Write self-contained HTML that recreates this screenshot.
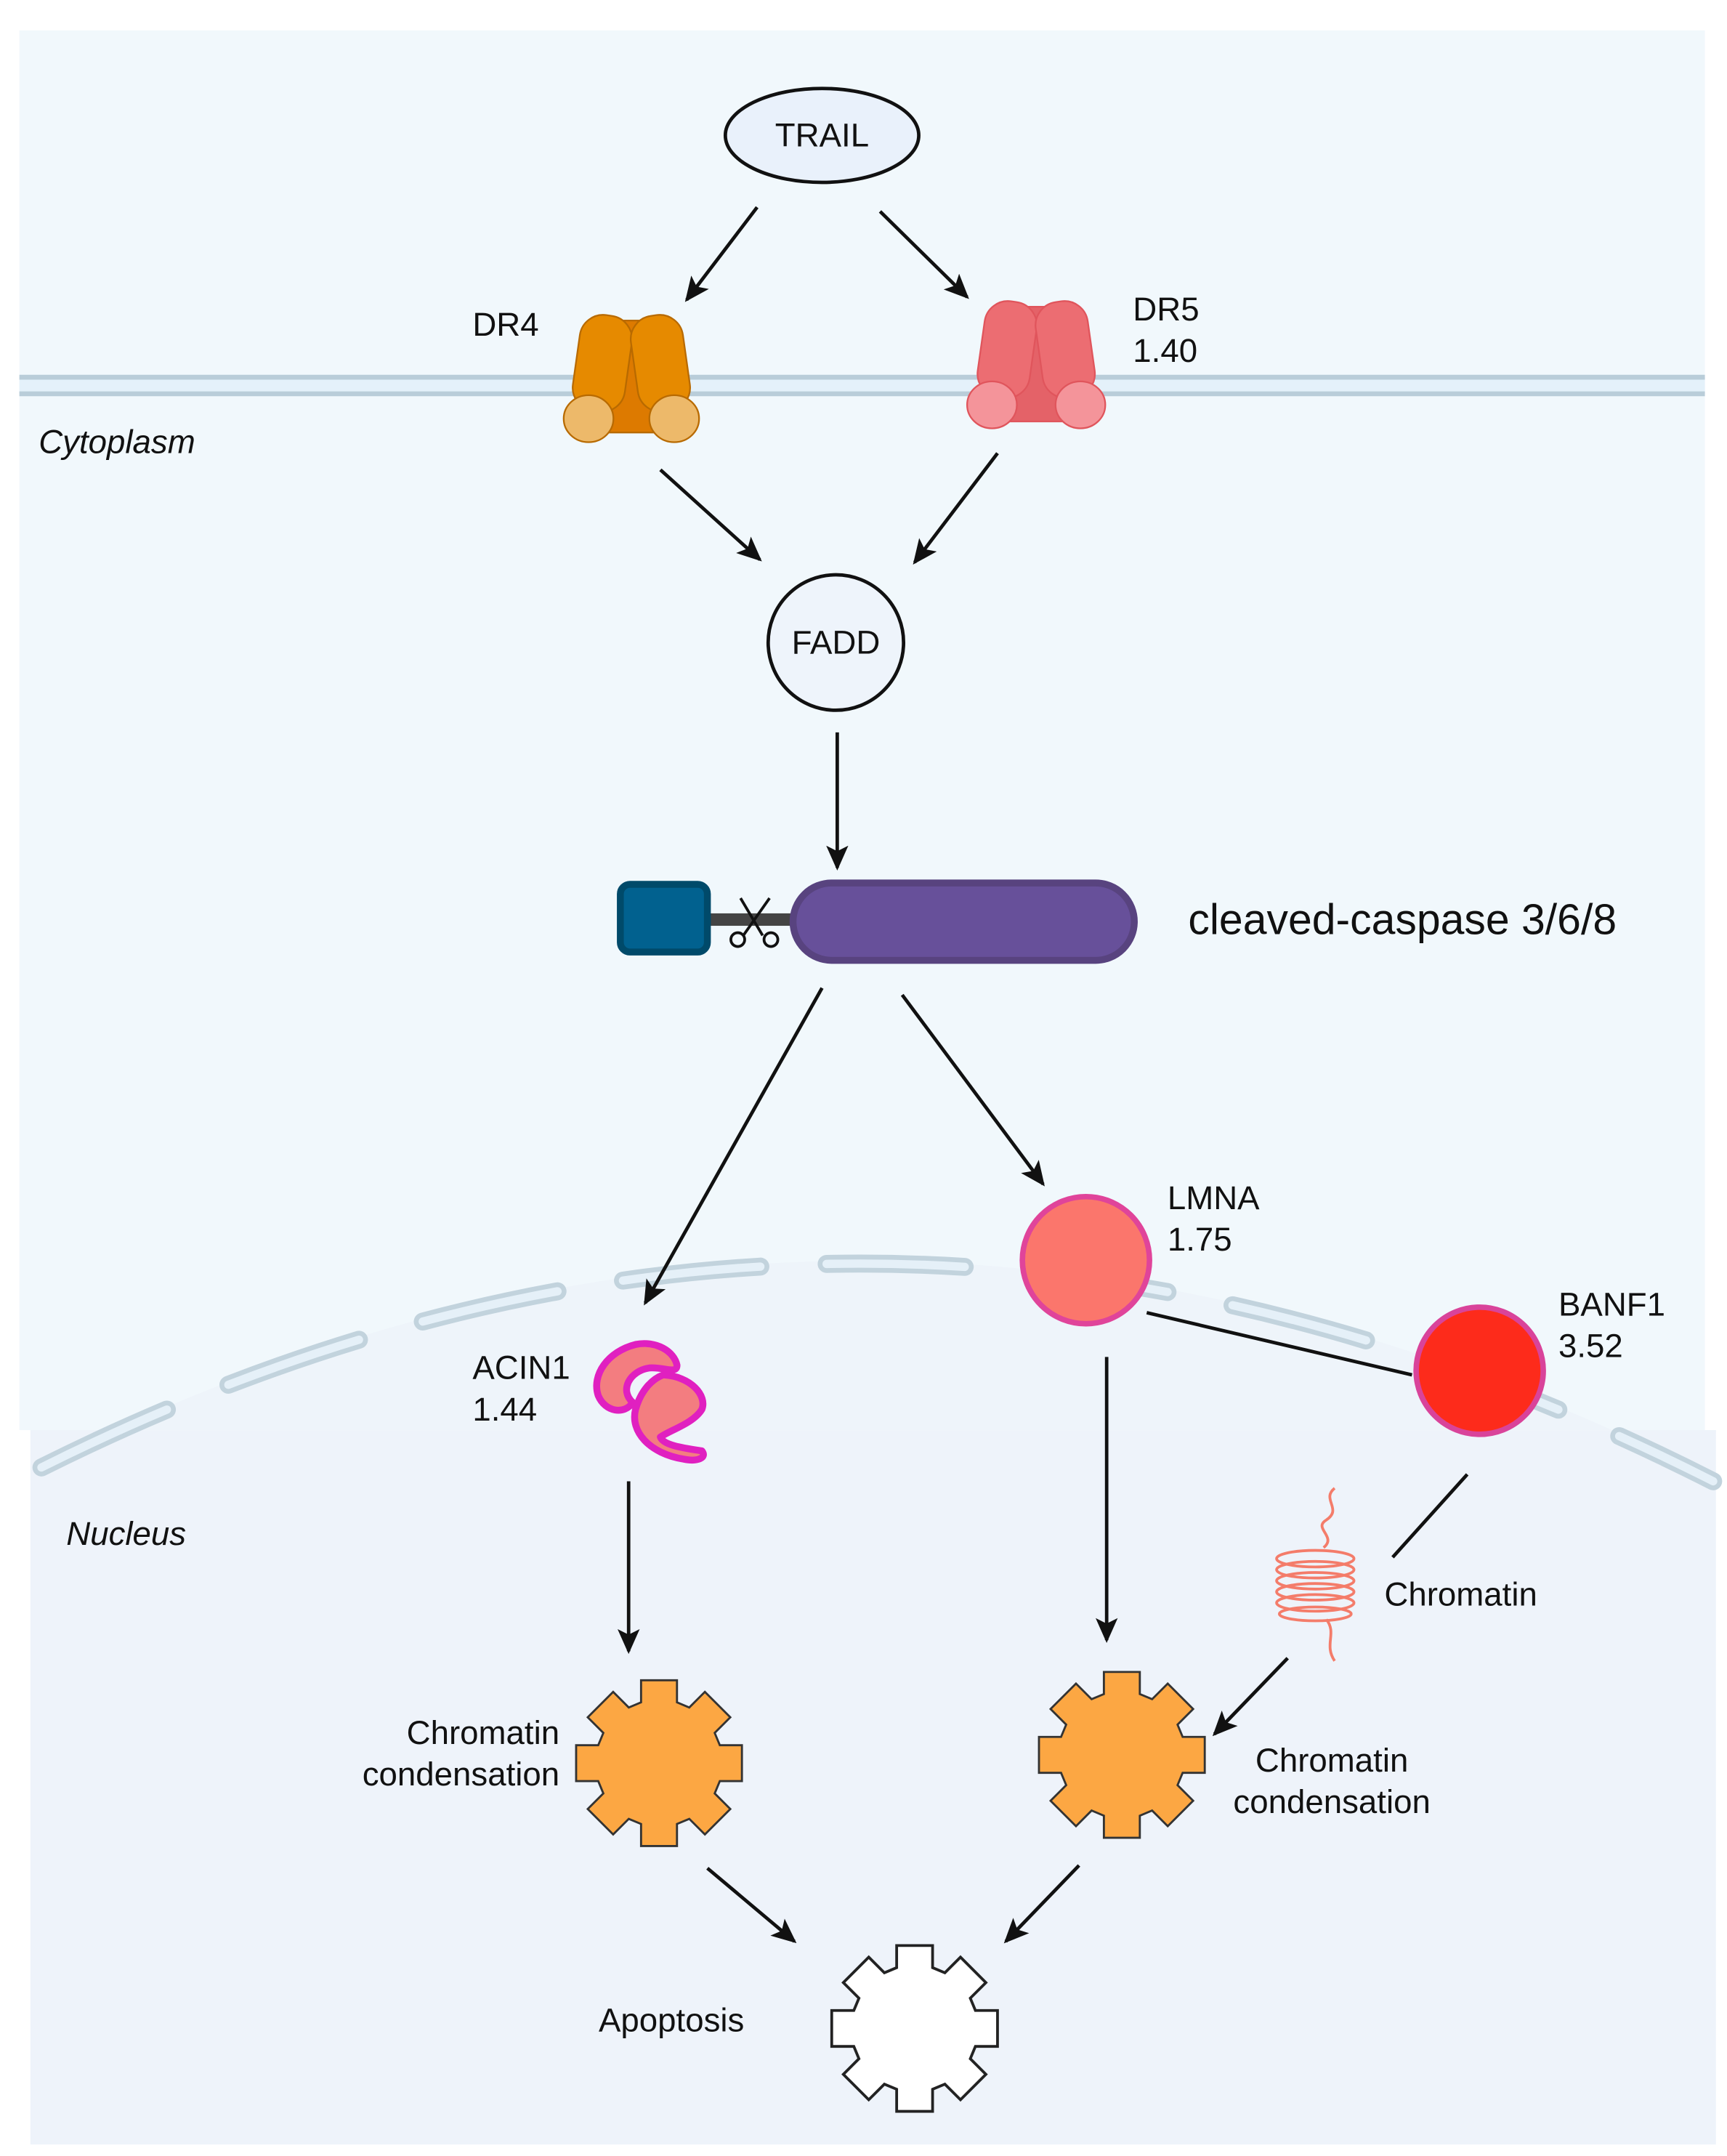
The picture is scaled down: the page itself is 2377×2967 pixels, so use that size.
<!DOCTYPE html>
<html><head><meta charset="utf-8"><style>
html,body{margin:0;padding:0;background:#fff}
svg{display:block}
text{font-family:"Liberation Sans",sans-serif;fill:#111}
</style></head><body>
<svg width="2377" height="2967" viewBox="0 0 1250 1560.3" preserveAspectRatio="none" xmlns="http://www.w3.org/2000/svg">
<defs>
<marker id="ah" markerWidth="10" markerHeight="10" refX="8" refY="5" orient="auto" markerUnits="userSpaceOnUse" viewBox="0 0 10 10">
<path d="M0,0 L10,5 L0,10 z" fill="#111"/></marker>
<marker id="a" markerWidth="18" markerHeight="16" refX="16" refY="8" orient="auto" markerUnits="userSpaceOnUse"><path d="M0,0 L18,8 L0,16 L4,8 z" fill="#111"/></marker>
<polygon id="gear" points="44,-13 60,-13 60,13 44,13 40.3,21.9 51.6,33.2 33.2,51.6 21.9,40.3 13,44 13,60 -13,60 -13,44 -21.9,40.3 -33.2,51.6 -51.6,33.2 -40.3,21.9 -44,13 -60,13 -60,-13 -44,-13 -40.3,-21.9 -51.6,-33.2 -33.2,-51.6 -21.9,-40.3 -13,-44 -13,-60 13,-60 13,-44 21.9,-40.3 33.2,-51.6 51.6,-33.2 40.3,-21.9"/>
</defs>
<rect width="1250" height="1561" fill="#fff"/>
<rect x="14" y="22" width="1220" height="1013" fill="#f1f8fc"/>
<rect x="22" y="1035" width="1220" height="517" fill="#eef3fa"/>
<path d="M30 1060 Q630 760 1240 1070 L1242 1035 L22 1035 Z" fill="#edf3f9" opacity="0.9"/>
<path d="M30 1062 Q630 762 1240 1072" fill="none" stroke="#c2d3dd" stroke-width="13" stroke-dasharray="100 48" stroke-linecap="round"/>
<path d="M30 1062 Q630 762 1240 1072" fill="none" stroke="#e5f0f8" stroke-width="6" stroke-dasharray="100 48" stroke-linecap="round"/>
<!-- membrane -->
<rect x="14" y="273" width="1220" height="12" fill="#e4f1fa"/>
<line x1="14" y1="273" x2="1234" y2="273" stroke="#b9cdd9" stroke-width="3.5"/>
<line x1="14" y1="285" x2="1234" y2="285" stroke="#b9cdd9" stroke-width="3.5"/>
<text x="28" y="328" font-size="24" font-style="italic">Cytoplasm</text>
<text x="48" y="1118" font-size="24" font-style="italic">Nucleus</text>
<!-- TRAIL -->
<ellipse cx="595" cy="98" rx="70" ry="34" fill="#e9f1fb" stroke="#111" stroke-width="2.5"/>
<text x="595" y="106" font-size="24" text-anchor="middle">TRAIL</text>
<g stroke="#111" stroke-width="2.5" fill="none" marker-end="url(#a)">
<line x1="548" y1="150" x2="497" y2="217"/>
<line x1="637" y1="153" x2="700" y2="215"/>
<line x1="478" y1="340" x2="550" y2="405"/>
<line x1="722" y1="328" x2="662" y2="407"/>
<line x1="606" y1="530" x2="606" y2="628"/>
<line x1="595" y1="715" x2="467" y2="943"/>
<line x1="653" y1="720" x2="755" y2="857"/>
<line x1="455" y1="1072" x2="455" y2="1195"/>
<line x1="801" y1="982" x2="801" y2="1187"/>
<line x1="932" y1="1200" x2="879" y2="1255"/>
<line x1="512" y1="1352" x2="575" y2="1405"/>
<line x1="781" y1="1350" x2="728" y2="1405"/>
</g>
<!-- DR4 -->
<text x="342" y="243" font-size="24">DR4</text>
<g stroke="#b86a00" stroke-width="1.2">
<polygon points="446,232 468,232 488,313 426,313" fill="#dd7a00"/>
<rect x="417" y="228" width="38" height="70" rx="17" fill="#e68a00" transform="rotate(8 436 263)"/>
<rect x="459" y="228" width="38" height="70" rx="17" fill="#e68a00" transform="rotate(-8 478 263)"/>
<ellipse cx="426" cy="303" rx="18" ry="17" fill="#edb96a"/>
<ellipse cx="488" cy="303" rx="18" ry="17" fill="#edb96a"/>
</g>
<!-- DR5 -->
<text x="820" y="232" font-size="24">DR5</text>
<text x="820" y="262" font-size="24">1.40</text>
<g stroke="#e0555c" stroke-width="1.2">
<polygon points="740,222 762,222 782,305 718,305" fill="#e46268"/>
<rect x="710" y="218" width="38" height="70" rx="17" fill="#ec6d72" transform="rotate(8 729 253)"/>
<rect x="752" y="218" width="38" height="70" rx="17" fill="#ec6d72" transform="rotate(-8 771 253)"/>
<ellipse cx="718" cy="293" rx="18" ry="17" fill="#f4949a"/>
<ellipse cx="782" cy="293" rx="18" ry="17" fill="#f4949a"/>
</g>
<!-- FADD -->
<circle cx="605" cy="465" r="49" fill="#eef4fb" stroke="#111" stroke-width="2.5"/>
<text x="605" y="473" font-size="24" text-anchor="middle">FADD</text>
<!-- caspase -->
<rect x="512" y="661" width="62" height="9" fill="#444"/>
<rect x="449" y="640" width="63" height="49" rx="7" fill="#01618f" stroke="#004a6a" stroke-width="5"/>
<g stroke="#111" stroke-width="2" fill="none">
<line x1="536" y1="650" x2="552" y2="677"/>
<line x1="557" y1="650" x2="538" y2="677"/>
<circle cx="534" cy="680" r="5"/><circle cx="558" cy="680" r="5"/>
</g>
<rect x="574" y="639" width="247" height="56" rx="28" fill="#67509a" stroke="#58437f" stroke-width="5"/>
<text x="860" y="676" font-size="31">cleaved-caspase 3/6/8</text>
<!-- LMNA BANF1 -->
<line x1="830" y1="950" x2="1022" y2="995" stroke="#111" stroke-width="2.5"/>
<circle cx="786" cy="912" r="46" fill="#fb766c" stroke="#e0449a" stroke-width="4"/>
<text x="845" y="875" font-size="24">LMNA</text>
<text x="845" y="905" font-size="24">1.75</text>
<circle cx="1071" cy="992" r="46" fill="#fd2b1b" stroke="#d9439a" stroke-width="4"/>
<text x="1128" y="952" font-size="24">BANF1</text>
<text x="1128" y="982" font-size="24">3.52</text>
<!-- ACIN1 -->
<text x="342" y="998" font-size="24">ACIN1</text>
<text x="342" y="1028" font-size="24">1.44</text>
<g fill="#f37d80" stroke="#e020c0" stroke-width="5" stroke-linejoin="round">
<path d="M460 973 C440 978 428 995 433 1010 C438 1022 452 1024 458 1015 C448 1006 456 992 470 990 C480 989 490 995 490 988 C488 978 475 970 460 973 Z"/>
<path d="M480 995 C500 996 512 1010 508 1020 C502 1030 485 1035 478 1040 C480 1046 495 1048 508 1050 C512 1055 505 1058 495 1056 C470 1052 456 1036 460 1020 C464 1006 472 998 480 995 Z"/>
</g>
<!-- chromatin -->
<line x1="1062" y1="1067" x2="1008" y2="1127" stroke="#111" stroke-width="2.5"/>
<g fill="none" stroke="#f47c6a" stroke-width="2">
<path d="M966 1077 C956 1085 972 1092 960 1100 C950 1106 968 1112 958 1120"/>
<ellipse cx="952" cy="1128" rx="28" ry="6"/><ellipse cx="952" cy="1136" rx="28" ry="6"/>
<ellipse cx="952" cy="1144" rx="28" ry="6"/><ellipse cx="952" cy="1152" rx="28" ry="6"/>
<ellipse cx="952" cy="1160" rx="28" ry="6"/><ellipse cx="952" cy="1168" rx="26" ry="5"/>
<path d="M960 1172 C968 1182 958 1190 966 1202"/>
</g>
<text x="1002" y="1162" font-size="24">Chromatin</text>
<!-- gears -->
<use href="#gear" transform="translate(477 1276)" fill="#fca743" stroke="#333" stroke-width="1.5"/>
<use href="#gear" transform="translate(812 1270)" fill="#fca743" stroke="#333" stroke-width="1.5"/>
<use href="#gear" transform="translate(662 1468)" fill="#fff" stroke="#222" stroke-width="2"/>
<text x="405" y="1262" font-size="24" text-anchor="end">Chromatin</text>
<text x="405" y="1292" font-size="24" text-anchor="end">condensation</text>
<text x="964" y="1282" font-size="24" text-anchor="middle">Chromatin</text>
<text x="964" y="1312" font-size="24" text-anchor="middle">condensation</text>
<text x="486" y="1470" font-size="24" text-anchor="middle">Apoptosis</text>
</svg>
</body></html>
